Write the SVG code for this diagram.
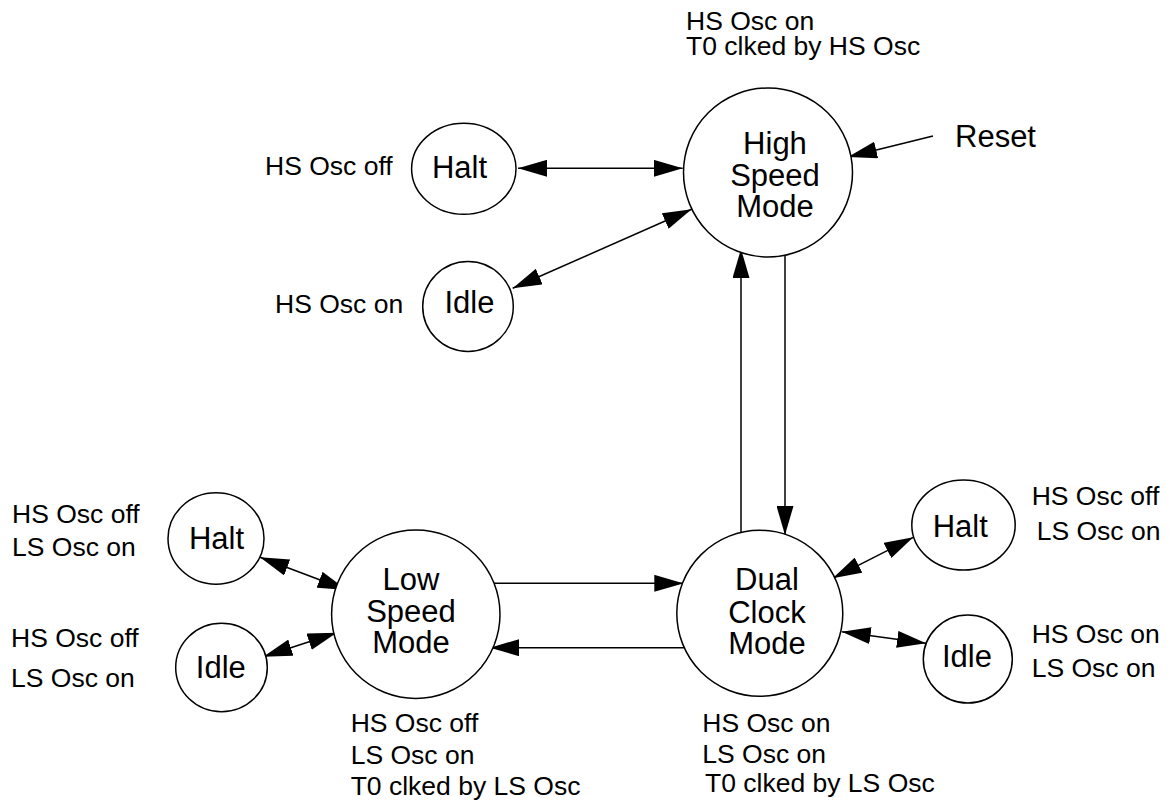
<svg xmlns="http://www.w3.org/2000/svg" width="1172" height="801" viewBox="0 0 1172 801">
  <style>
    .state { fill: #fff; stroke: #000; stroke-width: 1.5; }
    .wire { fill: none; stroke: #000; stroke-width: 1.5; }
    text { font-family: "Liberation Sans", Arial, Helvetica, sans-serif; fill: #000; }
    .big { font-size: 31px; text-anchor: middle; }
    .big-l { font-size: 31px; }
    .note { font-size: 26.5px; }
  </style>
  <defs>
    <marker id="arrow" viewBox="0 0 29 17" markerWidth="29" markerHeight="17" refX="29" refY="8.5" markerUnits="userSpaceOnUse" orient="auto-start-reverse">
      <path d="M0,0 L29,8.5 L0,17 z" fill="#000"/>
    </marker>
  </defs>
  <rect width="1172" height="801" fill="#fff"/>

  <!-- transitions -->
  <g id="connectors">
    <line class="wire" x1="518" y1="168.3" x2="682.7" y2="168.3" marker-start="url(#arrow)" marker-end="url(#arrow)"/>
    <line class="wire" x1="512.7" y1="288.3" x2="691.7" y2="209.3" marker-start="url(#arrow)" marker-end="url(#arrow)"/>
    <line class="wire" x1="933" y1="136" x2="848" y2="157" marker-end="url(#arrow)"/>
    <line class="wire" x1="741" y1="532" x2="741" y2="249" marker-end="url(#arrow)"/>
    <line class="wire" x1="785" y1="256" x2="785" y2="535" marker-end="url(#arrow)"/>
    <line class="wire" x1="493.3" y1="583.3" x2="683.3" y2="583.3" marker-end="url(#arrow)"/>
    <line class="wire" x1="690" y1="647.7" x2="490" y2="647.7" marker-end="url(#arrow)"/>
    <line class="wire" x1="913.3" y1="537.3" x2="832.7" y2="578.3" marker-start="url(#arrow)" marker-end="url(#arrow)"/>
    <line class="wire" x1="926" y1="643.3" x2="841.7" y2="631.7" marker-start="url(#arrow)" marker-end="url(#arrow)"/>
    <line class="wire" x1="260" y1="557.3" x2="346.7" y2="590" marker-start="url(#arrow)" marker-end="url(#arrow)"/>
    <line class="wire" x1="263.3" y1="656.7" x2="336.7" y2="632.7" marker-start="url(#arrow)" marker-end="url(#arrow)"/>
  </g>

  <!-- high speed mode and its states -->
  <g id="high-speed-mode">
    <circle class="state" cx="768" cy="172.5" r="84.5"/>
    <text class="big" x="775" y="153.5">High</text>
    <text class="big" x="775" y="185.5">Speed</text>
    <text class="big" x="775" y="217">Mode</text>
    <text class="note" x="686" y="30">HS Osc on</text>
    <text class="note" x="686" y="55">T0 clked by HS Osc</text>
  </g>
  <g id="reset">
    <text class="big-l" x="955" y="146.5">Reset</text>
  </g>
  <g id="hs-halt">
    <ellipse class="state" cx="463.8" cy="168.8" rx="52.2" ry="45.5"/>
    <text class="big" x="459.5" y="178">Halt</text>
    <text class="note" x="265" y="175">HS Osc off</text>
  </g>
  <g id="hs-idle">
    <ellipse class="state" cx="468" cy="306.5" rx="45.3" ry="45"/>
    <text class="big" x="469.5" y="313">Idle</text>
    <text class="note" x="275" y="313.3">HS Osc on</text>
  </g>

  <!-- low speed mode and its states -->
  <g id="low-speed-mode">
    <circle class="state" cx="415.8" cy="614.2" r="84.2"/>
    <text class="big" x="411" y="590">Low</text>
    <text class="big" x="411" y="622">Speed</text>
    <text class="big" x="411" y="653">Mode</text>
    <text class="note" x="350.7" y="732.3">HS Osc off</text>
    <text class="note" x="350.7" y="764">LS Osc on</text>
    <text class="note" x="350.7" y="795">T0 clked by LS Osc</text>
  </g>
  <g id="ls-halt">
    <ellipse class="state" cx="216" cy="538.5" rx="48" ry="45.7"/>
    <text class="big" x="216.5" y="549">Halt</text>
    <text class="note" x="12" y="523.3">HS Osc off</text>
    <text class="note" x="12" y="556">LS Osc on</text>
  </g>
  <g id="ls-idle">
    <ellipse class="state" cx="221.5" cy="667.5" rx="45.8" ry="44.2"/>
    <text class="big" x="220.8" y="678">Idle</text>
    <text class="note" x="11" y="646.7">HS Osc off</text>
    <text class="note" x="11" y="687.3">LS Osc on</text>
  </g>

  <!-- dual clock mode and its states -->
  <g id="dual-clock-mode">
    <circle class="state" cx="759.8" cy="613.3" r="83"/>
    <text class="big" x="767" y="590">Dual</text>
    <text class="big" x="767" y="623">Clock</text>
    <text class="big" x="767" y="654">Mode</text>
    <text class="note" x="702.3" y="731.7">HS Osc on</text>
    <text class="note" x="702.3" y="763.3">LS Osc on</text>
    <text class="note" x="705" y="791.7">T0 clked by LS Osc</text>
  </g>
  <g id="dc-halt">
    <ellipse class="state" cx="963.5" cy="525" rx="51.7" ry="45"/>
    <text class="big" x="960.3" y="537">Halt</text>
    <text class="note" x="1031.7" y="505">HS Osc off</text>
    <text class="note" x="1036.7" y="540">LS Osc on</text>
  </g>
  <g id="dc-idle">
    <ellipse class="state" cx="967.8" cy="659" rx="44.5" ry="44"/>
    <text class="big" x="967" y="667">Idle</text>
    <text class="note" x="1031.7" y="643.3">HS Osc on</text>
    <text class="note" x="1031.7" y="676.7">LS Osc on</text>
  </g>
</svg>
